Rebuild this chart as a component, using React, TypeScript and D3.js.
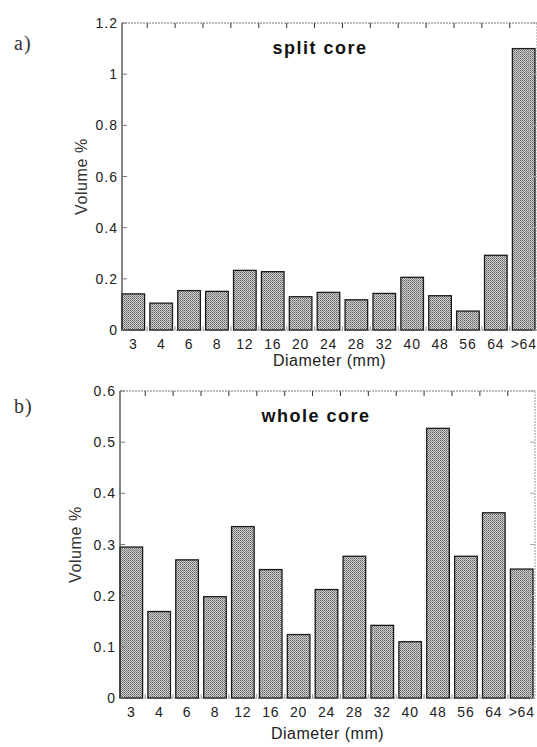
import React from 'react';
import * as d3 from 'd3';

const categories = ['3', '4', '6', '8', '12', '16', '20', '24', '28', '32', '40', '48', '56', '64', '>64'];
const splitCore = [0.141, 0.105, 0.154, 0.151, 0.233, 0.228, 0.13, 0.147, 0.118, 0.143, 0.206, 0.134, 0.074, 0.292, 1.1];
const wholeCore = [0.295, 0.169, 0.27, 0.198, 0.335, 0.251, 0.124, 0.212, 0.277, 0.142, 0.11, 0.527, 0.277, 0.362, 0.252];
const splitTicks = [0, 0.2, 0.4, 0.6, 0.8, 1, 1.2];
const wholeTicks = [0, 0.1, 0.2, 0.3, 0.4, 0.5, 0.6];

const sans = 'Liberation Sans, Arial, sans-serif';

const Panel = ({ values, yTicks, yMax, title, letter, left, right, top, bottom, letterY, ylabX, titleX, xlabGap }) => {
  const x = d3.scaleBand<string>()
    .domain(categories)
    .range([left, right - 2])
    .paddingInner(0.19)
    .paddingOuter(0);
  const y = d3.scaleLinear().domain([0, yMax]).range([bottom, top]);
  const step = x.step();
  const bw = x.bandwidth();
  const mids = categories.slice(1).map(c => x(c)! - (step - bw) / 2);
  const fmt = (v: number) => (v === 0 ? '0' : d3.format('~g')(v));

  return (
    <g>
      <text x={14} y={letterY} fontFamily="Liberation Serif, serif" fontSize={20} letterSpacing={1} fill="#333">
        {letter}
      </text>
      {/* frame */}
      <line x1={left} x2={right} y1={top} y2={top} stroke="#777" strokeWidth={1} strokeDasharray="2,1" />
      <line x1={right} x2={right} y1={top} y2={bottom} stroke="#999" strokeWidth={1} strokeDasharray="2,1" />
      <line x1={left} x2={right} y1={bottom} y2={bottom} stroke="#888" strokeWidth={1} strokeDasharray="2,1" />
      {/* bars */}
      {values.map((v, i) => (
        <rect
          key={categories[i]}
          x={x(categories[i])}
          y={y(v)}
          width={bw}
          height={bottom - y(v)}
          fill="url(#stipple)"
          stroke="#1a1a1a"
          strokeWidth={1.3}
        />
      ))}
      <line x1={left} x2={left} y1={top} y2={bottom} stroke="#333" strokeWidth={1.2} />
      {/* top / bottom ticks */}
      {mids.map((m, i) => (
        <g key={i}>
          <line x1={m} x2={m} y1={top} y2={top + 5} stroke="#333" strokeWidth={1} />
          <line x1={m} x2={m} y1={bottom} y2={bottom - 4} stroke="#999" strokeWidth={1} />
        </g>
      ))}
      {/* y ticks */}
      {yTicks.map(t => (
        <g key={t}>
          <line x1={left} x2={left + 5} y1={y(t)} y2={y(t)} stroke="#777" strokeWidth={1} />
          <line x1={right} x2={right - 5} y1={y(t)} y2={y(t)} stroke="#aaa" strokeWidth={1} />
          <text x={left - 4} y={y(t)} dy="0.36em" textAnchor="end" fontFamily={sans} fontSize={14} letterSpacing={1} fill="#222">
            {fmt(t)}
          </text>
        </g>
      ))}
      {/* x labels */}
      {categories.map(c => (
        <text key={c} x={x(c)! + bw / 2} y={bottom + 19} textAnchor="middle" fontFamily={sans} fontSize={14} letterSpacing={0.8} fill="#222">
          {c}
        </text>
      ))}
      <text x={(left + right) / 2} y={bottom + xlabGap} textAnchor="middle" fontFamily={sans} fontSize={16} letterSpacing={0.5} fill="#222">
        Diameter (mm)
      </text>
      <text
        transform={`translate(${ylabX},${(top + bottom) / 2}) rotate(-90)`}
        textAnchor="middle"
        fontFamily={sans}
        fontSize={16}
        letterSpacing={0.6}
        fill="#333"
      >
        Volume %
      </text>
      <text x={titleX} y={top + 31} textAnchor="middle" fontFamily={sans} fontWeight="bold" fontSize={18} letterSpacing={1.5} fill="#111">
        {title}
      </text>
    </g>
  );
};

export default function App() {
  return (
    <svg width={537} height={747} style={{ position: 'absolute', left: 0, top: 0, background: '#fff' }}>
      <defs>
        <pattern id="stipple" width={2} height={2} patternUnits="userSpaceOnUse">
          <rect width={2} height={2} fill="#cfcfcf" />
          <rect width={1} height={1} fill="#636363" />
          <rect x={1} y={1} width={1} height={1} fill="#8a8a8a" />
        </pattern>
      </defs>
      <rect width={537} height={747} fill="#fff" />
      <Panel
        values={splitCore}
        yTicks={splitTicks}
        yMax={1.2}
        title="split core"
        letter="a)"
        left={122}
        right={537}
        top={23}
        bottom={330}
        letterY={50}
        ylabX={87}
        titleX={320}
        xlabGap={36}
      />
      <Panel
        values={wholeCore}
        yTicks={wholeTicks}
        yMax={0.6}
        title="whole core"
        letter="b)"
        left={120}
        right={535}
        top={391}
        bottom={698}
        letterY={413}
        ylabX={81}
        titleX={316}
        xlabGap={41}
      />
    </svg>
  );
}
